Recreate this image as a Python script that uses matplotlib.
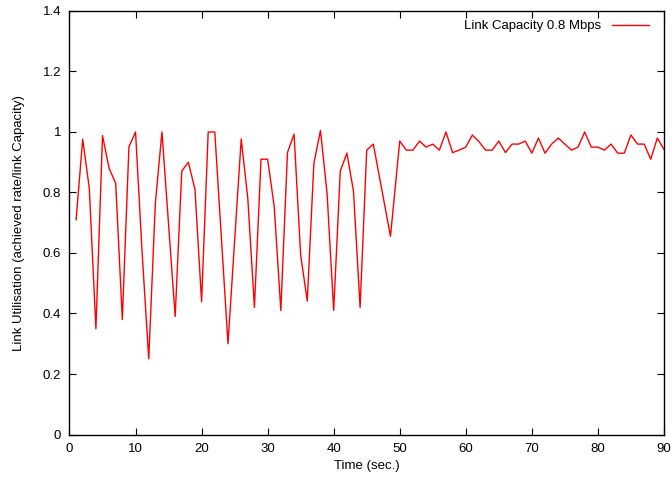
import matplotlib
matplotlib.use("Agg")
import matplotlib.pyplot as plt

plt.rcParams['font.family'] = ['Liberation Sans', 'DejaVu Sans']

time_sec = [1, 2, 3, 4, 5, 6, 7, 8, 9, 10,
            11, 12, 13, 14, 15, 16, 17, 18, 19, 20,
            21, 22, 23, 24, 25, 26, 27, 28, 29, 30,
            31, 32, 33, 34, 35, 36, 37, 38, 39, 40,
            41, 42, 43, 44, 45, 46, 48.6, 50,
            51, 52, 53, 54, 55, 56, 57, 58, 59, 60,
            61, 62, 63, 64, 65, 66, 67, 68, 69, 70,
            71, 72, 73, 74, 75, 76, 77, 78, 79, 80,
            81, 82, 83, 84, 85, 86, 87, 88, 89, 90]
utilisation = [0.71, 0.976, 0.814, 0.35, 0.988, 0.88, 0.83, 0.38, 0.951, 1.0,
               0.6, 0.25, 0.764, 1.0, 0.695, 0.39, 0.871, 0.90, 0.81, 0.439,
               1.0, 1.0, 0.65, 0.30, 0.64, 0.977, 0.78, 0.42, 0.91, 0.91,
               0.753, 0.41, 0.932, 0.993, 0.593, 0.441, 0.896, 1.005, 0.797, 0.41,
               0.871, 0.93, 0.804, 0.42, 0.94, 0.96, 0.655, 0.97,
               0.94, 0.94, 0.97, 0.95, 0.96, 0.94, 1.0, 0.932, 0.94, 0.95,
               0.99, 0.968, 0.94, 0.94, 0.97, 0.932, 0.96, 0.96, 0.97, 0.93,
               0.98, 0.93, 0.96, 0.98, 0.96, 0.94, 0.95, 1.0, 0.95, 0.95,
               0.94, 0.96, 0.93, 0.93, 0.99, 0.96, 0.96, 0.91, 0.98, 0.943]

x_ticks = [0, 10, 20, 30, 40, 50, 60, 70, 80, 90]
y_ticks = [0, 0.2, 0.4, 0.6, 0.8, 1.0, 1.2, 1.4]
y_tick_labels = ["0", "0.2", "0.4", "0.6", "0.8", "1", "1.2", "1.4"]
series_label = "Link Capacity 0.8 Mbps"

fig = plt.figure(figsize=(6.72, 4.78), dpi=100)
ax = fig.add_axes([0.1034, 0.091, 0.8846, 0.886])
ax.plot(time_sec, utilisation, color='#ff0000', linewidth=1.0, label=series_label)
ax.set_xlim(0, 90)
ax.set_ylim(0, 1.4)
ax.set_xticks(x_ticks)
ax.set_xticklabels([str(t) for t in x_ticks])
ax.set_yticks(y_ticks)
ax.set_yticklabels(y_tick_labels)
ax.tick_params(direction='in', top=True, right=True, length=5, width=0.8,
               labelsize=9.5, pad=6)
for s in ax.spines.values():
    s.set_linewidth(1.0)
ax.set_xlabel("Time (sec.)", fontsize=9.5, labelpad=4)
ax.set_ylabel("Link Utilisation (achieved rate/link Capacity)", fontsize=9.5, labelpad=13)
leg = ax.legend(loc='upper right', frameon=False, fontsize=9.5, markerfirst=False,
                handlelength=2.8, borderaxespad=0.3, handletextpad=0.8,
                borderpad=0.4)
leg.set_bbox_to_anchor((0.99, 1.0))
fig.savefig("out.png", dpi=100)
